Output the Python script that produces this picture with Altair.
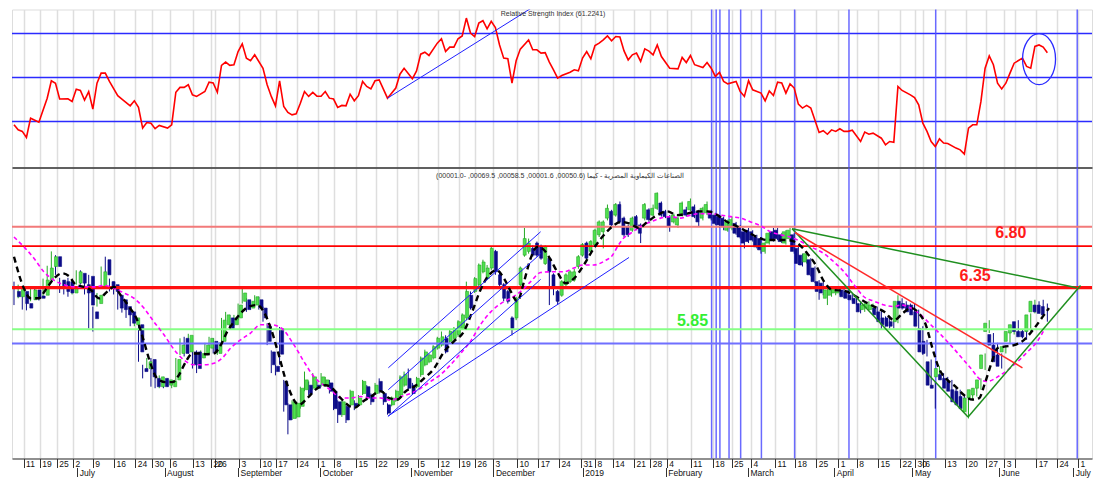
import altair as alt
import pandas as pd

# ---------------- data ----------------
opens = [6.28,6.21,6.28,6.12,6.17,6.30,6.22,6.23,6.43,6.61,6.74,6.43,6.41,6.41,6.26,6.39,6.52,6.37,6.48,6.01,
         6.12,6.34,6.70,6.41,6.37,6.23,6.17,6.08,6.01,5.84,5.84,5.26,5.26,5.38,5.13,5.02,5.13,5.04,5.02,5.11,
         5.46,5.66,5.48,5.48,5.48,5.40,5.46,5.53,5.62,5.46,5.62,5.84,5.93,5.84,5.93,6.15,6.17,6.06,6.10,6.17,
         6.06,5.82,5.48,5.29,5.79,5.09,4.78,4.60,4.62,4.76,4.98,5.04,5.00,5.04,5.04,5.04,5.07,4.96,4.82,4.65,
         4.76,4.78,4.80,4.78,4.93,5.02,4.91,4.93,5.09,4.93,4.78,4.78,4.84,4.91,5.04,5.13,5.04,5.02,5.18,5.31,
         5.35,5.40,5.53,5.57,5.66,5.62,5.66,5.71,5.79,5.93,6.23,6.28,6.37,6.54,6.45,6.59,6.81,6.50,6.37,6.28,
         5.93,5.93,6.37,6.76,6.81,6.85,6.92,6.87,6.65,6.72,6.50,6.28,6.23,6.37,6.41,6.43,6.61,6.76,6.92,6.81,
         6.90,7.03,7.07,7.25,7.34,7.29,7.43,7.25,7.14,7.09,7.27,7.16,7.25,7.36,7.29,7.38,7.45,7.34,7.27,7.20,
         7.16,7.29,7.36,7.36,7.40,7.34,7.25,7.32,7.34,7.29,7.27,7.25,7.09,7.12,7.18,7.14,7.07,7.09,7.07,7.00,
         6.98,6.81,6.92,7.07,7.09,7.03,6.92,6.98,7.03,6.85,6.76,6.67,6.70,6.59,6.41,6.39,6.19,6.23,6.26,6.26,
         6.30,6.28,6.23,6.19,6.12,6.04,6.06,6.04,6.06,6.01,5.93,5.93,5.88,5.88,6.15,6.12,6.10,6.10,6.01,5.79,
         5.62,5.35,5.04,5.15,5.18,5.13,5.09,4.98,4.96,4.89,4.69,4.87,4.91,5.00,5.26,5.75,5.71,5.57,5.44,5.48,
         5.62,5.73,5.88,5.75,5.75,5.75,6.01,6.10,6.10,6.08]
highs = [6.41,6.37,6.30,6.14,6.33,6.32,6.24,6.45,6.62,6.81,6.76,6.46,6.43,6.46,6.41,6.56,6.56,6.41,6.50,6.08,
         6.26,6.61,6.74,6.45,6.41,6.28,6.19,6.10,6.04,5.95,5.86,5.31,5.40,5.40,5.15,5.17,5.15,5.13,5.11,5.40,
         5.66,5.68,5.72,5.50,5.50,5.50,5.60,5.68,5.66,5.62,5.93,6.01,5.97,5.97,6.12,6.34,6.19,6.17,6.23,6.21,
         6.08,5.86,5.50,5.31,5.81,5.11,4.80,4.84,4.82,5.02,5.22,5.09,5.20,5.09,5.20,5.15,5.11,4.98,4.84,4.84,
         4.78,4.98,4.84,4.91,5.11,5.04,4.93,5.07,5.13,4.96,4.80,4.89,4.98,5.17,5.22,5.26,5.07,5.15,5.42,5.51,
         5.46,5.57,5.68,5.75,5.70,5.77,5.81,5.90,5.99,6.41,6.28,6.47,6.65,6.70,6.63,6.87,6.83,6.54,6.39,6.30,
         5.95,6.21,6.61,7.12,6.98,6.89,6.94,6.90,6.89,6.74,6.52,6.30,6.43,6.52,6.56,6.58,6.76,6.92,6.94,6.96,
         7.11,7.22,7.22,7.43,7.36,7.45,7.47,7.27,7.16,7.27,7.29,7.18,7.45,7.38,7.43,7.59,7.47,7.36,7.29,7.31,
         7.27,7.47,7.40,7.51,7.43,7.36,7.40,7.47,7.36,7.32,7.29,7.27,7.23,7.27,7.20,7.16,7.09,7.12,7.09,7.03,
         7.00,6.94,7.07,7.12,7.12,7.05,7.09,7.12,7.05,6.87,6.78,6.81,6.72,6.61,6.43,6.41,6.32,6.34,6.34,6.32,
         6.32,6.30,6.26,6.21,6.15,6.12,6.15,6.12,6.08,6.04,5.95,5.95,5.90,6.23,6.19,6.15,6.12,6.12,6.04,5.82,
         5.64,5.38,5.09,5.29,5.20,5.15,5.11,5.00,4.98,4.91,4.89,5.00,5.02,5.13,5.46,5.90,5.73,5.60,5.46,5.57,
         5.77,5.86,5.90,5.77,5.77,5.99,6.17,6.15,6.17,6.12]
lows = [6.10,6.19,6.04,6.03,6.15,6.17,6.16,6.21,6.41,6.59,6.50,6.26,6.24,6.21,6.24,6.37,6.37,6.24,5.79,5.75,
        6.08,6.32,6.48,6.28,6.24,6.04,6.00,5.93,5.82,5.82,5.35,5.13,5.24,5.02,5.00,5.00,5.00,5.02,5.00,5.09,
        5.44,5.42,5.46,5.26,5.20,5.38,5.44,5.50,5.46,5.44,5.60,5.82,5.77,5.82,5.90,6.12,6.01,6.04,6.08,6.04,
        5.88,5.57,5.20,5.17,5.31,4.69,4.39,4.58,4.60,4.73,4.96,4.91,4.98,4.98,5.02,5.02,4.93,4.71,4.54,4.62,
        4.54,4.76,4.71,4.76,4.91,4.84,4.78,4.91,4.93,4.78,4.65,4.76,4.82,4.89,5.02,4.98,4.91,5.00,5.15,5.29,
        5.33,5.38,5.51,5.55,5.46,5.60,5.64,5.68,5.77,5.90,6.04,6.26,6.34,6.52,6.43,6.56,6.50,6.34,6.15,6.12,
        5.70,5.90,6.34,6.74,6.78,6.74,6.74,6.70,6.63,6.10,6.23,6.10,6.21,6.34,6.39,6.41,6.58,6.74,6.70,6.78,
        6.87,7.00,6.85,7.22,7.14,7.27,7.18,7.00,7.00,7.07,7.09,6.92,7.22,7.20,7.27,7.36,7.27,7.25,7.07,7.18,
        7.12,7.27,7.27,7.34,7.25,7.14,7.22,7.29,7.22,7.16,7.12,7.09,7.07,7.09,7.03,6.98,6.85,6.92,6.94,6.85,
        6.78,6.78,6.90,6.94,6.96,6.92,6.90,6.96,6.78,6.63,6.61,6.65,6.48,6.39,6.17,6.23,6.10,6.21,6.23,6.23,
        6.19,6.17,6.15,6.10,5.99,6.01,6.04,6.01,5.95,5.77,5.82,5.79,5.79,5.86,6.04,6.04,5.99,5.95,5.79,5.44,
        5.42,5.00,4.73,5.13,5.09,4.98,4.93,4.80,4.76,4.71,4.60,4.84,4.89,4.98,5.24,5.73,5.55,5.33,5.26,5.46,
        5.60,5.71,5.73,5.66,5.64,5.73,5.99,5.99,5.97,5.88]
closes = [6.21,6.34,6.12,6.06,6.30,6.19,6.19,6.43,6.59,6.74,6.61,6.34,6.28,6.26,6.34,6.54,6.39,6.26,6.10,5.92,
          6.23,6.54,6.50,6.32,6.28,6.06,6.04,5.97,5.86,5.93,5.48,5.22,5.35,5.15,5.02,5.15,5.02,5.11,5.09,5.38,
          5.57,5.46,5.70,5.31,5.26,5.46,5.57,5.66,5.48,5.60,5.90,5.97,5.79,5.93,6.10,6.26,6.04,6.15,6.21,6.06,
          5.93,5.62,5.31,5.22,5.45,4.78,4.58,4.82,4.80,5.00,5.11,4.93,5.15,5.00,5.15,5.11,4.96,4.73,4.65,4.82,
          4.58,4.96,4.76,4.87,5.09,4.87,4.82,5.04,4.96,4.82,4.67,4.87,4.96,5.15,5.18,5.00,4.93,5.13,5.40,5.48,
          5.44,5.55,5.66,5.68,5.48,5.75,5.79,5.88,5.97,6.28,6.06,6.45,6.63,6.67,6.59,6.85,6.54,6.37,6.19,6.15,
          5.79,6.19,6.59,6.98,6.92,6.76,6.76,6.72,6.87,6.54,6.32,6.15,6.41,6.50,6.54,6.54,6.74,6.90,6.72,6.94,
          7.09,7.20,7.20,7.38,7.16,7.43,7.20,7.03,7.03,7.25,7.12,7.05,7.43,7.23,7.38,7.58,7.29,7.27,7.14,7.29,
          7.25,7.45,7.29,7.47,7.27,7.20,7.38,7.43,7.25,7.18,7.16,7.14,7.20,7.23,7.05,7.00,6.92,6.94,6.96,6.87,
          6.83,6.92,7.05,6.96,6.98,6.94,7.07,7.09,6.81,6.65,6.63,6.78,6.50,6.41,6.28,6.26,6.30,6.32,6.32,6.30,
          6.21,6.19,6.17,6.12,6.01,6.10,6.12,6.10,5.97,5.88,5.84,5.82,5.82,6.15,6.06,6.06,6.01,5.97,5.82,5.48,
          5.46,5.04,5.00,5.26,5.11,5.00,4.96,4.82,4.78,4.73,4.87,4.98,5.00,5.11,5.44,5.86,5.57,5.35,5.29,5.55,
          5.75,5.84,5.75,5.68,5.68,5.97,6.15,6.01,5.99,5.97]

rsi_day = [0,1,2,3,4,6,8,9,10,11,13,14,15,16,17,18,19,20,21,22,23,25,26,28,29,30,31,32,33,34,35,37,38,39,40,
           41,42,43,44,46,47,48,49,50,51,52,53,54,55,56,57,58,60,61,62,63,64,65,66,67,68,69,70,71,72,73,74,75,
           76,77,78,79,80,81,82,83,84,85,86,87,88,90,92,93,94,96,97,98,99,100,102,103,104,105,106,107,108,109,
           110,111,112,113,114,115,116,117,118,119,120,121,122,124,125,126,127,128,129,130,131,132,134,135,136,
           137,138,139,140,141,142,143,144,145,146,147,148,149,150,151,152,153,154,155,156,158,160,161,162,163,
           164,166,167,168,169,170,171,172,174,175,176,177,178,180,181,182,183,184,185,186,187,188,189,190,191,
           192,194,195,196,197,198,199,200,201,202,204,205,206,207,209,210,211,212,213,214,216,217,218,219,220,
           221,222,223,224,225,227,228,229,230,231,232,233,234,235,236,237,238,239,240,241,243,244,245,246,247,
           248,249]
rsi_val = [28.5,26.2,25.5,22.7,31.5,29.7,40.6,48.5,47.4,40.2,40.3,39.1,44.7,44.1,39.7,43.6,35.6,47.4,52,52,48.2,
           41.7,40.2,37.1,39.4,36.4,27,29.5,29.2,26.7,28.2,27,28.5,43.3,45.5,45.5,46.7,42.1,41.4,43.6,47.9,47.5,
           43.3,55.5,57,55.5,55.8,61.8,65.3,58.8,57.6,60.3,54.2,46.7,41.4,37.1,48.5,36.8,34.1,33,33.5,38.3,43.6,
           41.4,43.2,41.5,41.5,43.6,40.6,40.2,36.4,37.3,37.1,42.4,39.4,41.7,48.2,45.9,44.8,48.5,48.9,40.6,45.2,
           51.5,54.2,49.4,53,60.6,61.5,60,65.6,67.6,61.8,63.8,63.8,67.6,68.9,77,70.2,68.6,74.7,75.8,72.1,75.5,
           72.7,64.8,58.8,58.5,47.4,57.6,62.9,67.1,62.6,62.6,61.1,61.3,57,53.5,49.7,50.9,52.4,53.5,53,58.8,61.8,
           58.5,64.5,65.6,67.1,68.9,66.7,68.6,68.4,62.1,58,60.3,61.1,57.3,63,62,60.3,64.8,59.5,54.2,53.9,59.1,
           56.8,60,55.8,54.5,56.8,54.2,50.5,52.3,48.2,47.1,48.2,43.6,41.4,48.6,44.4,42.9,39.4,43.9,41.8,47.9,
           47.5,42.9,47.1,45.2,37.9,36.1,37.3,36.1,25,25.8,24.2,26.2,25.5,26.7,25.5,25.5,26,20.9,25.2,24.2,24.7,
           22.4,19.4,20.9,20.5,45.9,44.1,42.1,40.9,37.6,29.2,25.5,20.9,18.6,22.1,20.2,20,17.9,17.1,15.2,27,28.5,
           28.5,39.1,54.2,59.8,55.8,47.4,44.8,47.4,52,56.5,58.8,55,54.2,64.1,64.8,63.8,61.2]

fast_day = [0,2.4,4,6,7.6,9.6,11.6,13.3,14.9,16.9,18.5,20.5,22.5,24.1,25.7,27.7,29.7,31.3,33,34.5,36.5,38.2,
            39.8,41.4,43,44.6,46.2,48.2,49.8,51.4,53,54.6,56.6,58.6,60.2,61.9,63.5,65.9,68.7,70.7,73.1,75.1,76.7,
            78.7,82,84,86,88.4,90.4,92.4,94.4,96.4,98.8,101.2,103.6,106,108.4,110.4,112.4,114.5,116.3,118.1,
            119.7,121.3,122.9,124.5,126.1,127.7,129.3,130.9,132.9,134.9,137.3,139.7,142.2,144.2,146.2,148.2,
            150.6,152.6,155,157.4,159.8,162.2,164.6,167.1,169.5,171.9,174.3,176.7,179.1,181.5,183.9,186.3,188.7,
            191.2,193.2,195.2,197.2,200,202.4,204.8,207.3,209.7,212.1,214.1,216.1,218.1,219.7,221.3,222.9,224.9,
            226.9,228.9,230.9,232.6,233.8,235.4,237,238.6,241,243.4,245.8,248.2,249.4]
fast_val = [6.74,6.32,6.19,6.19,6.30,6.45,6.52,6.48,6.37,6.34,6.30,6.19,6.28,6.34,6.23,6.08,5.90,5.62,5.31,5.13,
            5.08,5.08,5.18,5.35,5.46,5.46,5.45,5.46,5.57,5.75,5.88,5.99,6.08,6.10,6.01,5.79,5.50,5.04,4.78,4.87,
            5.00,5.04,5.00,4.87,4.74,4.82,4.89,4.96,4.87,4.85,4.96,5.02,5.13,5.26,5.48,5.62,5.75,6.01,6.30,6.50,
            6.56,6.45,6.28,6.15,6.41,6.72,6.87,6.83,6.70,6.54,6.39,6.45,6.63,6.85,7.03,7.14,7.20,7.18,7.12,7.20,
            7.29,7.34,7.29,7.31,7.34,7.34,7.29,7.20,7.14,7.07,7.00,6.96,6.96,6.96,6.92,6.78,6.63,6.41,6.30,6.29,
            6.23,6.15,6.08,6.01,5.90,5.99,6.06,5.99,5.84,5.53,5.26,5.11,5.02,4.91,4.85,4.87,5.04,5.31,5.53,5.55,
            5.57,5.64,5.79,5.97,6.06]

slow_day = [0,2.4,4.8,7.2,9.6,12,14.5,16.9,19.3,21.7,24.1,26.5,28.9,31.3,33.7,36.1,38.6,41,43.4,45.8,48.2,50.2,
            52.2,54.6,57,59.4,61.9,64.3,67.5,69.9,72.3,74.7,76.7,78.7,81.1,83.5,86,88.4,90.8,93.2,95.6,98,100.4,
            102.8,105.2,107.6,110,112.4,114.9,117.3,119.7,122.1,124.5,126.9,129.3,132.5,134.9,137.3,139.7,142.2,
            144.2,145.5,146.8,148.6,151,153.4,155.8,158.2,160.6,163,165.5,167.9,170.3,172.7,175.1,177.5,179.9,
            182.3,184.7,187.1,189.6,192,195.2,197.6,200,202.4,204.8,207.3,209.7,212.1,213.7,216.1,218.5,220.9,
            223.3,225.7,228.1,230.6,233,234.6,237,239.4,241.8,244.2,246.6,248.2]
slow_val = [7.00,6.87,6.72,6.54,6.43,6.37,6.34,6.34,6.34,6.36,6.32,6.26,6.19,6.06,5.88,5.71,5.51,5.37,5.31,5.31,
            5.33,5.40,5.53,5.64,5.73,5.84,5.84,5.80,5.57,5.35,5.15,5.04,4.96,4.87,4.87,4.89,4.87,4.87,4.84,4.89,
            4.93,5.00,5.09,5.18,5.31,5.46,5.62,5.84,6.01,6.12,6.19,6.28,6.41,6.53,6.54,6.54,6.59,6.63,6.63,6.68,
            6.76,6.88,6.98,7.05,7.14,7.20,7.25,7.27,7.25,7.29,7.31,7.31,7.29,7.27,7.25,7.20,7.15,7.07,7.03,7.00,
            6.94,6.87,6.78,6.67,6.54,6.37,6.21,6.15,6.10,6.08,6.10,6.06,5.97,5.84,5.71,5.57,5.42,5.26,5.11,5.09,
            5.15,5.24,5.35,5.48,5.62,5.77]

rsi_levels = [30, 50, 70]
price_levels = [7.135, 6.88, 6.332, 5.78, 5.59]
marker_days = [168.1, 169.2, 170.1, 172.3, 175.1, 180.1, 188.1, 201.2, 222.1, 256.2]

week_days = [2.3, 6.2, 10.3, 14.2, 19.0, 24.1, 29.2, 33.3, 37.6, 43.1, 47.5, 48.4, 54.2, 59.3, 63.1, 68.2,
             73.3, 77.1, 82.4, 87.2, 92.3, 97.3, 102.2, 107.2, 111.1, 115.4, 121.2, 126.3, 131.3, 136.6, 140.0,
             144.3, 149.4, 153.3, 157.3, 163.1, 168.4, 172.9, 177.6, 183.4, 188.2, 193.3, 198.6, 203.1, 208.2,
             213.5, 217.1, 219.0, 224.3, 229.4, 234.2, 238.6, 241.2, 246.3, 251.3, 256.4]
week_labels = ["11", "19", "25", "2", "9", "16", "24", "30", "6", "13", "20", "26", "3", "10", "17", "24",
               "1", "8", "15", "22", "29", "5", "12", "19", "26", "3", "10", "17", "24", "31", "8",
               "14", "21", "28", "4", "11", "18", "25", "4", "11", "18", "25", "1", "8", "15",
               "22", "30", "6", "13", "20", "27", "3", "", "17", "24", "1"]
month_days = [14.2, 35.4, 53.3, 73.3, 95.4, 115.4, 137.1, 157.3, 177.3, 198.3, 217.3, 238.3, 256.4]
month_labels = ["July", "August", "September", "October", "November", "December", "2019",
                "February", "March", "April", "May", "June", "July"]

# trend lines (start day, start value, end day, end value)
price_trend_x1 = [90.2, 90.2, 90.2, 90.1, 187.5, 187.5, 229.9, 188.2]
price_trend_y1 = [5.27, 4.98, 4.63, 4.63, 7.11, 7.11, 4.62, 7.06]
price_trend_x2 = [126.9, 126.9, 126.9, 148.2, 256.1, 229.9, 257.0, 243.0]
price_trend_y2 = [7.07, 6.78, 6.44, 6.73, 6.33, 4.62, 6.36, 5.27]
price_trend_kind = ["blue", "blue", "blue", "blue", "green", "green", "green", "red"]

rsi_trend_x1, rsi_trend_y1, rsi_trend_x2, rsi_trend_y2 = [90], [40.6], [125.3], [82.3]
ellipse_day, ellipse_val = [247.0], [58.3]

level_labels = ["6.80", "6.35", "5.85"]
level_label_day = [240.2, 231.6, 163.5]
level_label_val = [7.05, 6.49, 5.895]
level_label_kind = ["red", "red", "green"]

rsi_title = "Relative Strength Index (61.2241)"
price_title = "(00001.0- ,00069.5 ,00058.5 ,00001.6 ,00050.6) الصناعات الكيماوية المصرية - كيما"

# ---------------- styles / layout ----------------
FONT = "Liberation Sans"
W, H_RSI, H_PX = 1080, 158, 291
XDOM = [-0.48, 259.76]
RSI_DOM = [9.08, 80.9]
PX_DOM = [4.07, 7.92]
level_styles = [("#f27a7a", 2), ("#ff0000", 1.6), ("#ff1010", 3.2), ("#86ff86", 2), ("#6f6fff", 2)]
trend_colors = {"blue": "#2020ff", "green": "#1f8f1f", "red": "#ff2a2a"}
label_colors = {"red": "#ff1a1a", "green": "#33ee33"}
UP_FILL, UP_EDGE, DN_FILL = "#4fe04f", "#25a825", "#0c0c88"


def X(field, axis=None):
    return alt.X(field, type="quantitative",
                 scale=alt.Scale(domain=XDOM, nice=False, zero=False), axis=axis)


def Yp(field, axis=None):
    return alt.Y(field, type="quantitative",
                 scale=alt.Scale(domain=PX_DOM, nice=False, zero=False), axis=axis)


def Yr(field, axis=None):
    return alt.Y(field, type="quantitative",
                 scale=alt.Scale(domain=RSI_DOM, nice=False, zero=False), axis=axis)


def lookup_expr(values, labels):
    return ("[" + ",".join("'" + l + "'" for l in labels) + "][indexof(["
            + ",".join(str(v) for v in values) + "], datum.value)]")


# ---------------- tables ----------------
n = len(opens)
candles = pd.DataFrame({"day": list(range(n)), "open": opens, "high": highs,
                        "low": lows, "close": closes})
candles["bot"] = candles[["open", "close"]].min(axis=1)
candles["top"] = candles[["open", "close"]].max(axis=1)
up = candles["close"] >= candles["open"]
candles["fill"] = [UP_FILL if u else DN_FILL for u in up]
candles["edge"] = [UP_EDGE if u else DN_FILL for u in up]

rsi_df = pd.DataFrame({"day": rsi_day, "rsi": rsi_val})
fast_df = pd.DataFrame({"day": fast_day, "v": fast_val})
slow_df = pd.DataFrame({"day": slow_day, "v": slow_val})
rsi_lv = pd.DataFrame({"v": rsi_levels})
px_lv = pd.DataFrame({"v": price_levels,
                      "col": [s[0] for s in level_styles],
                      "w": [s[1] for s in level_styles]})
marks_df = pd.DataFrame({"day": marker_days})
ptrend = pd.DataFrame({"x1": price_trend_x1, "y1": price_trend_y1, "x2": price_trend_x2,
                       "y2": price_trend_y2,
                       "col": [trend_colors[k] for k in price_trend_kind],
                       "w": [1.0 if k == "blue" else 1.5 for k in price_trend_kind]})
rtrend = pd.DataFrame({"x1": rsi_trend_x1, "y1": rsi_trend_y1, "x2": rsi_trend_x2, "y2": rsi_trend_y2})
ell = pd.DataFrame({"day": ellipse_day, "v": ellipse_val})
lbl = pd.DataFrame({"t": level_labels, "day": level_label_day, "v": level_label_val,
                    "col": [label_colors[k] for k in level_label_kind]})
rsi_t = pd.DataFrame({"t": [rsi_title], "day": [129.9], "v": [80.85]})
px_t = pd.DataFrame({"t": [price_title], "day": [101.7], "v": [7.81]})

# ---------------- axes ----------------
day_axis = alt.Axis(values=week_days, labelExpr=lookup_expr(week_days, week_labels), orient="bottom",
                    grid=True, gridColor="#dedede", gridWidth=1.5, ticks=True, tickSize=9,
                    tickColor="#333333", domain=True, domainColor="#333333", labelAlign="left",
                    labelBaseline="top", labelPadding=-8, labelOffset=2, labelFontSize=8.5,
                    labelColor="#111111", labelOverlap=False, labelFlush=False, labelFont=FONT,
                    title=None)
month_axis = alt.Axis(values=month_days, labelExpr=lookup_expr(month_days, month_labels),
                      orient="bottom", offset=9, grid=False, ticks=True, tickSize=9,
                      tickColor="#333333", domain=False, labelAlign="left", labelBaseline="top",
                      labelPadding=-8, labelOffset=2, labelFontSize=8.5, labelColor="#111111",
                      labelOverlap=False, labelFlush=False, labelFont=FONT, title=None)
top_axis = alt.Axis(orient="top", grid=False, ticks=False, labels=False, domain=True,
                    domainColor="#333333", domainWidth=1.3, title=None)
rsi_grid_axis = alt.Axis(values=week_days, orient="bottom", grid=True, gridColor="#dedede",
                         gridWidth=1.5, ticks=False, labels=False, domain=False, title=None)
rsi_y_axis = alt.Axis(orient="right", values=list(range(10, 85, 5)), format="d", tickSize=4,
                      tickColor="#333333", domainColor="#333333", labelFontSize=9,
                      labelPadding=3, labelColor="#111111", labelFont=FONT, grid=False, title=None)
px_y_axis = alt.Axis(orient="right", values=[round(4.2 + 0.1 * i, 1) for i in range(37)],
                     format=".1f", tickSize=4, tickColor="#333333", domainColor="#333333",
                     labelFontSize=9, labelPadding=3, labelColor="#111111", labelFont=FONT,
                     grid=False, labelOverlap=False, title=None)

# ---------------- RSI panel ----------------
rsi_hl = alt.Chart(rsi_lv).mark_rule(color="#2b2bff", strokeWidth=1.6).encode(y=Yr("v"))
rsi_vl = alt.Chart(marks_df).mark_rule(color="#5050ff", strokeWidth=1.5, opacity=0.85).encode(x=X("day"))
rsi_line = alt.Chart(rsi_df).mark_line(color="#ff0000", strokeWidth=1.6).encode(
    x=X("day", rsi_grid_axis), y=Yr("rsi", rsi_y_axis))
rsi_tr = alt.Chart(rtrend).mark_rule(color="#2020ff", strokeWidth=1, clip=True).encode(
    x=X("x1"), x2="x2", y=Yr("y1"), y2="y2")
rsi_ell = alt.Chart(ell).mark_point(
    shape="M0,-1A0.647,1,0,1,1,0,1A0.647,1,0,1,1,0,-1Z", size=2601, filled=False,
    color="#2a2aff", strokeWidth=1.3, opacity=1).encode(x=X("day"), y=Yr("v"))
rsi_title_mark = alt.Chart(rsi_t).mark_text(fontSize=7, color="#333333", font=FONT,
                                            baseline="top", align="center").encode(
    x=X("day"), y=Yr("v"), text="t")

rsi_panel = alt.layer(rsi_hl, rsi_vl, rsi_line, rsi_tr, rsi_ell, rsi_title_mark).resolve_scale(
    x="independent").resolve_axis(x="independent").properties(width=W, height=H_RSI)

# ---------------- price panel ----------------
wicks = alt.Chart(candles).mark_rule(strokeWidth=1).encode(
    x=X("day", day_axis), y=Yp("low", px_y_axis), y2="high", color=alt.Color("edge:N", scale=None))
bodies = alt.Chart(candles).mark_bar(size=3, strokeWidth=0.6).encode(
    x=X("day", month_axis), y=Yp("bot"), y2="top",
    color=alt.Color("fill:N", scale=None), stroke=alt.Stroke("edge:N", scale=None))
px_hl = alt.Chart(px_lv).mark_rule().encode(
    y=Yp("v"), color=alt.Color("col:N", scale=None), strokeWidth=alt.StrokeWidth("w:Q", scale=None))
px_vl = alt.Chart(marks_df).mark_rule(color="#5050ff", strokeWidth=1.5, opacity=0.85).encode(x=X("day"))
slow_line = alt.Chart(slow_df).mark_line(color="#ff00ff", strokeWidth=1.6, strokeDash=[4, 3],
                                         interpolate="monotone").encode(x=X("day"), y=Yp("v"))
fast_line = alt.Chart(fast_df).mark_line(color="#000000", strokeWidth=2.4, strokeDash=[6, 4],
                                         interpolate="monotone").encode(x=X("day", top_axis), y=Yp("v"))
px_tr = alt.Chart(ptrend).mark_rule(clip=True).encode(
    x=X("x1"), x2="x2", y=Yp("y1"), y2="y2",
    color=alt.Color("col:N", scale=None), strokeWidth=alt.StrokeWidth("w:Q", scale=None))
px_lbl = alt.Chart(lbl).mark_text(fontSize=16, fontWeight="bold", font=FONT, baseline="middle",
                                  align="center").encode(
    x=X("day"), y=Yp("v"), text="t", color=alt.Color("col:N", scale=None))
px_title_mark = alt.Chart(px_t).mark_text(fontSize=7, color="#333333", font=FONT,
                                          baseline="middle", align="left").encode(
    x=X("day"), y=Yp("v"), text="t")

price_panel = alt.layer(px_vl, wicks, bodies, px_hl, slow_line, fast_line, px_tr, px_lbl,
                        px_title_mark).resolve_scale(x="independent").resolve_axis(
    x="independent").properties(width=W, height=H_PX)

chart = alt.vconcat(rsi_panel, price_panel, spacing=0, bounds="flush").resolve_scale(
    x="independent", y="independent").properties(
    padding={"top": -0.5, "bottom": 0, "left": 0, "right": 0},
    background="white").configure_view(stroke=None).configure(font=FONT)

chart.save("out.html", embed_options={"renderer": "svg", "actions": False})
